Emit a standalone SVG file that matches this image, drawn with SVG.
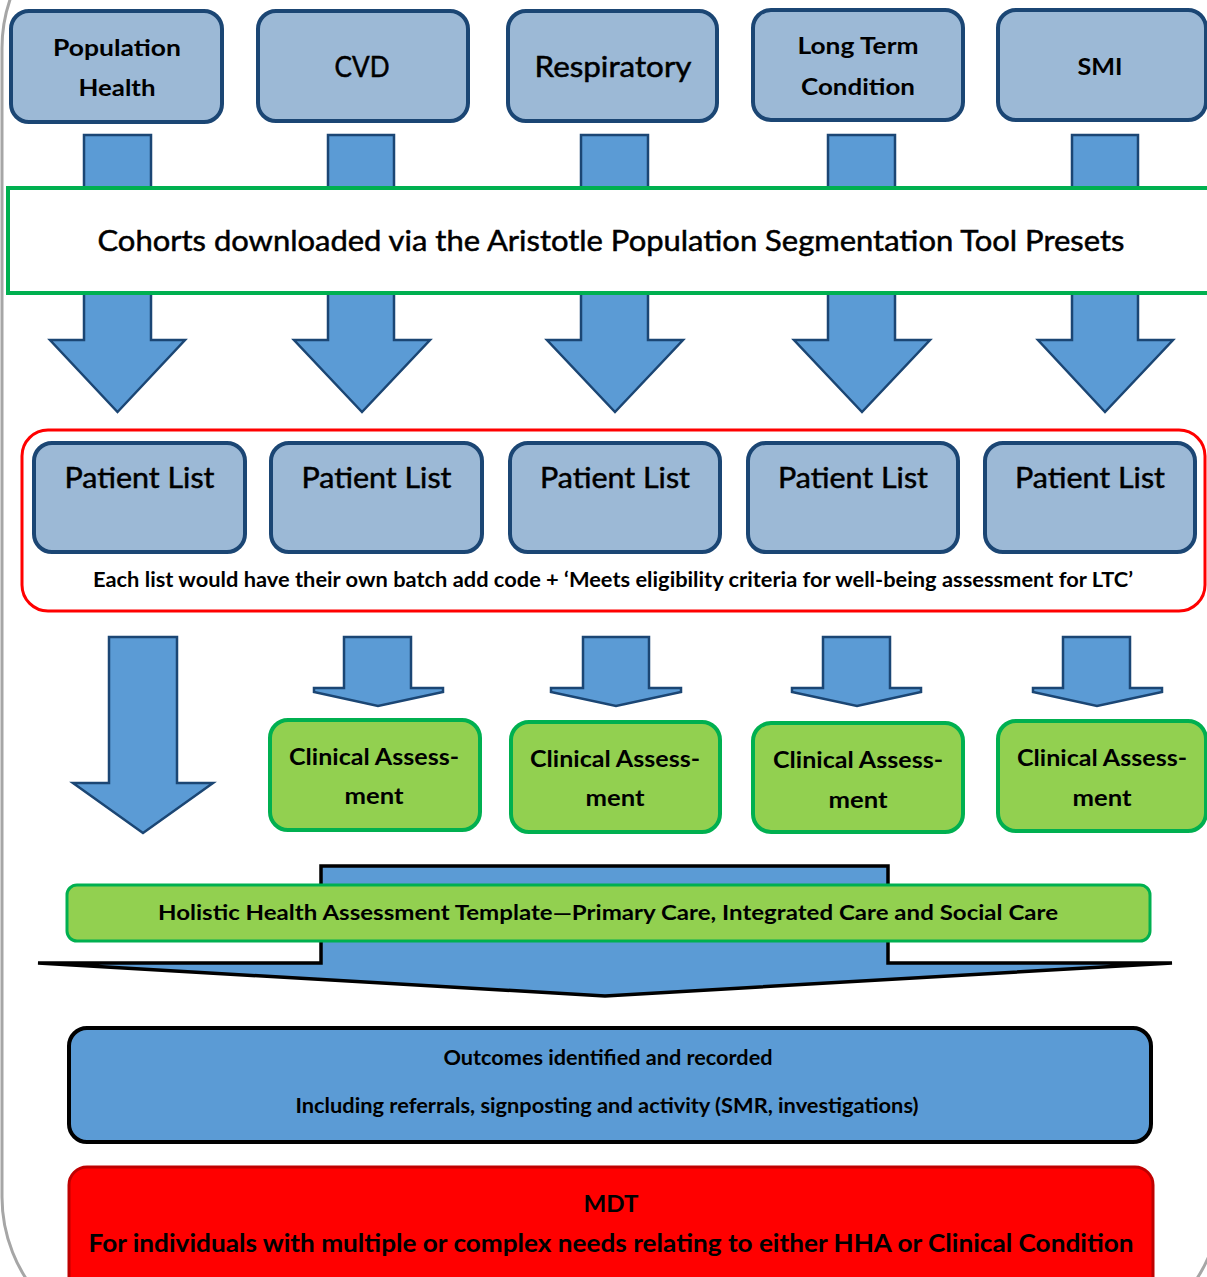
<svg xmlns="http://www.w3.org/2000/svg" width="1207" height="1277" viewBox="0 0 1207 1277">
<style>
text{font-family:Lato,"Open Sans","Liberation Sans",sans-serif;fill:#000;text-anchor:middle}
.b{font-weight:bold}
.r{stroke:#000;stroke-width:0.5}
.top{fill:#9cb9d6;stroke:#1b4674;stroke-width:4}
.arr{fill:#5b9bd5;stroke:#1b4674;stroke-width:2.5;stroke-linejoin:miter}
.clin{fill:#92d050;stroke:#00b050;stroke-width:4}
</style>
<rect x="2" y="-102" width="1219" height="1449" rx="150" fill="none" stroke="#a6a6a6" stroke-width="3"/>
<g id="connectors">
<polygon class="arr" points="84,135 151,135 151,340 185,340 117.5,412 50,340 84,340"/>
<polygon class="arr" points="328,135 394,135 394,340 430,340 362,412 294,340 328,340"/>
<polygon class="arr" points="581,135 648,135 648,340 683,340 615,412 547,340 581,340"/>
<polygon class="arr" points="828,135 895,135 895,340 930,340 862,412 794,340 828,340"/>
<polygon class="arr" points="1072,135 1138,135 1138,340 1173,340 1105,412 1038,340 1072,340"/>
<polygon class="arr" points="109,637 177,637 177,783 213,783 143,833 73,783 109,783"/>
<polygon class="arr" points="344,637 411,637 411,688 443,688 443,692 378,706 314,692 314,688 344,688"/>
<polygon class="arr" points="583,637 649,637 649,688 681,688 681,692 616,706 551,692 551,688 583,688"/>
<polygon class="arr" points="823,637 890,637 890,688 921,688 921,692 857,706 792,692 792,688 823,688"/>
<polygon class="arr" points="1063,637 1130,637 1130,688 1162,688 1162,692 1097,706 1033,692 1033,688 1063,688"/>
<polygon points="321,866 888,866 888,963 1172,963 605,996 38,963 321,963" fill="#5b9bd5" stroke="#000" stroke-width="3.5"/>
</g>
<g id="n-pop"><rect class="top" x="11" y="11" width="211" height="111" rx="18"/><text class="b" x="117" y="56" font-size="23" textLength="128" lengthAdjust="spacingAndGlyphs">Population</text><text class="b" x="117" y="96" font-size="23" textLength="77" lengthAdjust="spacingAndGlyphs">Health</text></g>
<g id="n-cvd"><rect class="top" x="258" y="11" width="210" height="110" rx="18"/><text class="r" x="362" y="77" font-size="28" textLength="55" lengthAdjust="spacingAndGlyphs">CVD</text></g>
<g id="n-resp"><rect class="top" x="508" y="11" width="209" height="110" rx="18"/><text class="r" x="613" y="77" font-size="28" textLength="157" lengthAdjust="spacingAndGlyphs">Respiratory</text></g>
<g id="n-ltc"><rect class="top" x="753" y="10" width="210" height="110" rx="18"/><text class="b" x="858" y="54" font-size="23" textLength="121" lengthAdjust="spacingAndGlyphs">Long Term</text><text class="b" x="858" y="95" font-size="23" textLength="114" lengthAdjust="spacingAndGlyphs">Condition</text></g>
<g id="n-smi"><rect class="top" x="998" y="10" width="208" height="110" rx="18"/><text class="b" x="1100" y="75" font-size="23" textLength="45" lengthAdjust="spacingAndGlyphs">SMI</text></g>
<g id="n-cohorts"><rect x="8" y="188" width="1215" height="105" fill="#fff" stroke="#00b050" stroke-width="4"/><text class="r" x="611" y="251" font-size="29" textLength="1027" lengthAdjust="spacingAndGlyphs">Cohorts downloaded via the Aristotle Population Segmentation Tool Presets</text></g>
<g id="n-lists">
<rect x="22" y="430" width="1183" height="181" rx="26" fill="#fff" stroke="#ff0000" stroke-width="3"/>
<g id="n-pl1"><rect class="top" x="34" y="443" width="211" height="109" rx="18"/><text class="r" x="139.5" y="488" font-size="29" textLength="150" lengthAdjust="spacingAndGlyphs">Patient List</text></g>
<g id="n-pl2"><rect class="top" x="271" y="443" width="211" height="109" rx="18"/><text class="r" x="376.5" y="488" font-size="29" textLength="150" lengthAdjust="spacingAndGlyphs">Patient List</text></g>
<g id="n-pl3"><rect class="top" x="510" y="443" width="210" height="109" rx="18"/><text class="r" x="615" y="488" font-size="29" textLength="150" lengthAdjust="spacingAndGlyphs">Patient List</text></g>
<g id="n-pl4"><rect class="top" x="748" y="443" width="210" height="109" rx="18"/><text class="r" x="853" y="488" font-size="29" textLength="150" lengthAdjust="spacingAndGlyphs">Patient List</text></g>
<g id="n-pl5"><rect class="top" x="985" y="443" width="210" height="109" rx="18"/><text class="r" x="1090" y="488" font-size="29" textLength="150" lengthAdjust="spacingAndGlyphs">Patient List</text></g>
<text class="b" x="613" y="587" font-size="20" textLength="1040" lengthAdjust="spacingAndGlyphs">Each list would have their own batch add code + ‘Meets eligibility criteria for well-being assessment for LTC’</text>
</g>
<g id="n-ca1"><rect class="clin" x="270" y="720" width="210" height="110" rx="18"/><text class="b" x="374" y="765" font-size="23" textLength="170" lengthAdjust="spacingAndGlyphs">Clinical Assess-</text><text class="b" x="374" y="804" font-size="23" textLength="59" lengthAdjust="spacingAndGlyphs">ment</text></g>
<g id="n-ca2"><rect class="clin" x="511" y="722" width="209" height="110" rx="18"/><text class="b" x="615" y="767" font-size="23" textLength="170" lengthAdjust="spacingAndGlyphs">Clinical Assess-</text><text class="b" x="615" y="806" font-size="23" textLength="59" lengthAdjust="spacingAndGlyphs">ment</text></g>
<g id="n-ca3"><rect class="clin" x="753" y="723" width="210" height="109" rx="18"/><text class="b" x="858" y="768" font-size="23" textLength="170" lengthAdjust="spacingAndGlyphs">Clinical Assess-</text><text class="b" x="858" y="808" font-size="23" textLength="59" lengthAdjust="spacingAndGlyphs">ment</text></g>
<g id="n-ca4"><rect class="clin" x="998" y="721" width="208" height="110" rx="18"/><text class="b" x="1102" y="766" font-size="23" textLength="170" lengthAdjust="spacingAndGlyphs">Clinical Assess-</text><text class="b" x="1102" y="806" font-size="23" textLength="59" lengthAdjust="spacingAndGlyphs">ment</text></g>
<g id="n-hha"><rect x="67" y="885" width="1083" height="56" rx="10" fill="#92d050" stroke="#00b050" stroke-width="3"/><text class="b" x="608" y="920" font-size="20" textLength="900" lengthAdjust="spacingAndGlyphs">Holistic Health Assessment Template—Primary Care, Integrated Care and Social Care</text></g>
<g id="n-out"><rect x="69" y="1028" width="1082" height="114" rx="18" fill="#5b9bd5" stroke="#000" stroke-width="4"/><text class="b" x="608" y="1065" font-size="20" textLength="329" lengthAdjust="spacingAndGlyphs">Outcomes identified and recorded</text><text class="b" x="607" y="1113" font-size="20" textLength="623" lengthAdjust="spacingAndGlyphs">Including referrals, signposting and activity (SMR, investigations)</text></g>
<g id="n-mdt"><rect x="69" y="1167" width="1084" height="130" rx="18" fill="#ff0000" stroke="#c00000" stroke-width="3"/><text class="b" x="611" y="1212" font-size="23" textLength="55" lengthAdjust="spacingAndGlyphs">MDT</text><text class="b" x="611" y="1252" font-size="24" textLength="1045" lengthAdjust="spacingAndGlyphs">For individuals with multiple or complex needs relating to either HHA or Clinical Condition</text></g>
</svg>
